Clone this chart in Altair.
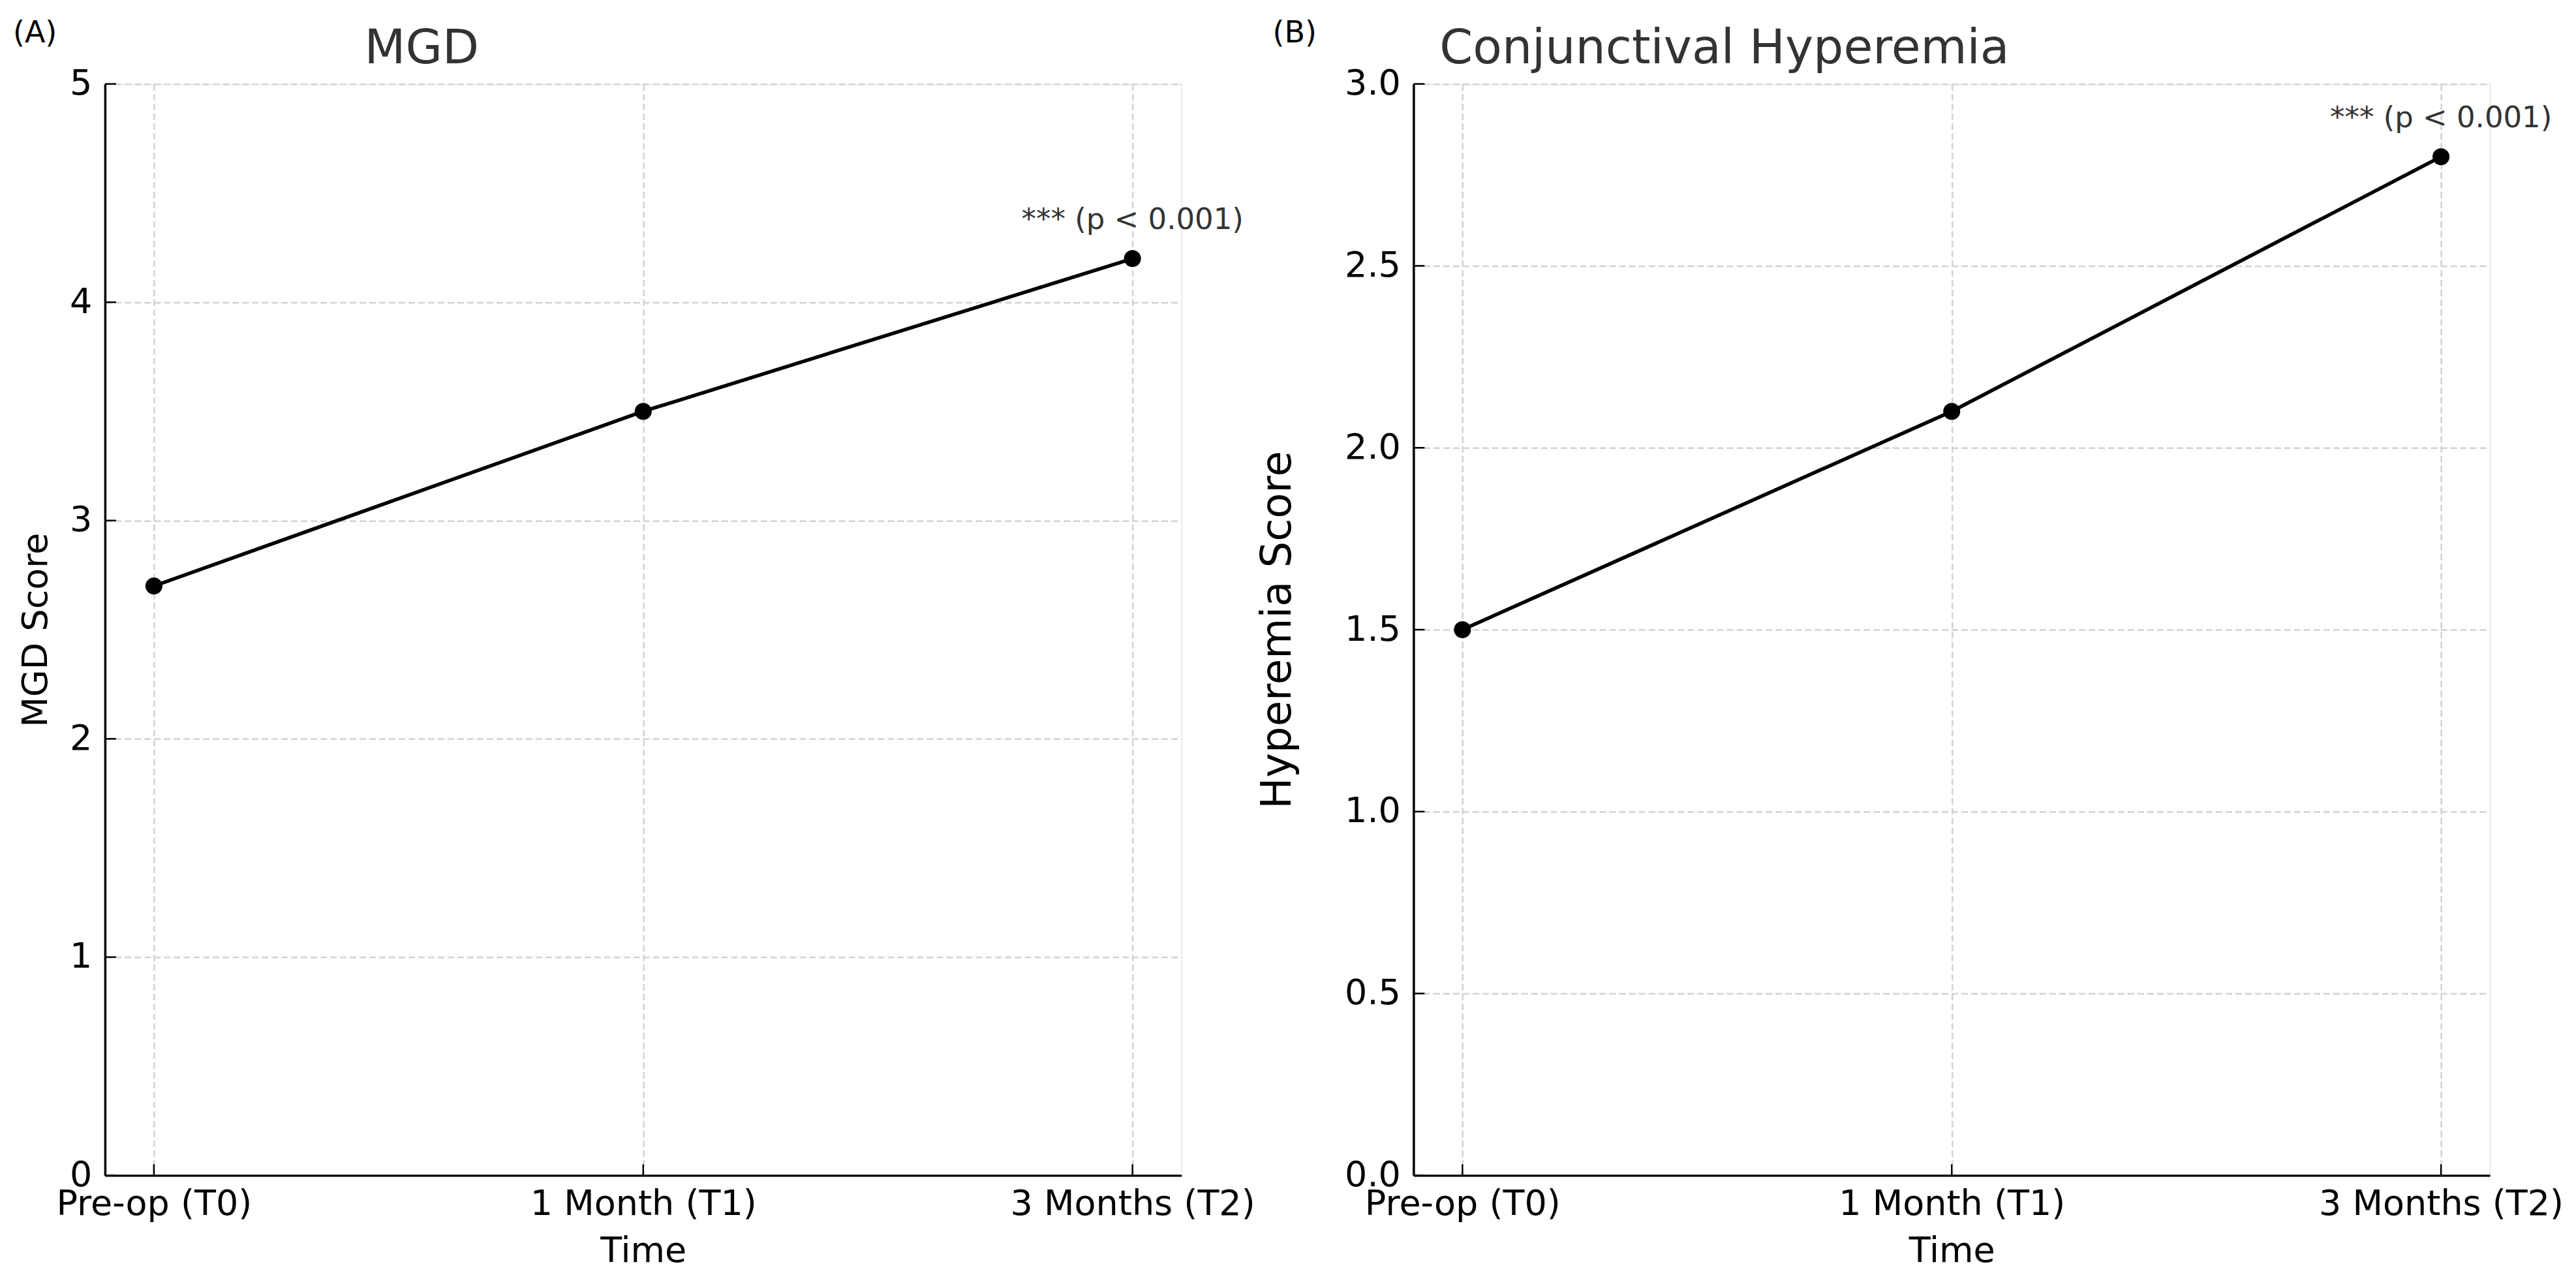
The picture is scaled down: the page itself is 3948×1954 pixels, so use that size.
import altair as alt
import pandas as pd

# ---- data ----
times = ["Pre-op (T0)", "1 Month (T1)", "3 Months (T2)"]
mgd_scores = [2.7, 3.5, 4.2]
hyperemia_scores = [1.5, 2.1, 2.8]
mgd_ticks = [0, 1, 2, 3, 4, 5]
hyperemia_ticks = [0.0, 0.5, 1.0, 1.5, 2.0, 2.5, 3.0]
annotation_text = "*** (p < 0.001)"

FONT = "DejaVu Sans"
W, H = 1651, 1674
TICK_LEN = 17


def panel(values, ticks, ymax, fmt, ytitle, ytitle_size, ytitle_pad,
          title, title_dx, label, label_dx):
    df = pd.DataFrame({"Time": times, "Score": values})
    tick_df = pd.DataFrame({"Score": ticks})
    time_df = pd.DataFrame({"Time": times})
    ann_df = pd.DataFrame({"Time": [times[-1]], "Score": [values[-1]],
                           "label": [annotation_text]})
    lab_df = pd.DataFrame({"label": [label]})

    xscale = alt.Scale(type="point", domain=times, padding=0.1)
    yscale = alt.Scale(domain=[0, ymax], nice=False, zero=True)

    x_axis = alt.Axis(
        title="Time", labelAngle=0, labelFontSize=54, titleFontSize=54,
        labelFont=FONT, titleFont=FONT, labelColor="#000", titleColor="#000",
        titleFontWeight="normal", labelPadding=17, titlePadding=18,
        labelLimit=2000, labelOverlap=False,
        ticks=False, domainColor="#000", domainWidth=3.5,
        grid=True, gridColor="#d2d2d2", gridWidth=2.5, gridDash=[10, 5],
    )
    y_axis = alt.Axis(
        title=ytitle, values=ticks, format=fmt, labelFontSize=54,
        titleFontSize=ytitle_size, labelFont=FONT, titleFont=FONT,
        labelColor="#000", titleColor="#000", titleFontWeight="normal",
        labelPadding=20, titlePadding=ytitle_pad, ticks=False,
        labelLimit=2000, labelOverlap=False,
        domainColor="#000", domainWidth=3.5,
        grid=True, gridColor="#d2d2d2", gridWidth=2.5, gridDash=[10, 5],
    )

    base = alt.Chart(df).encode(
        x=alt.X("Time:N", scale=xscale, axis=x_axis, sort=times),
        y=alt.Y("Score:Q", scale=yscale, axis=y_axis),
    )
    line = base.mark_line(color="black", strokeWidth=5.5)
    pts = base.mark_circle(size=680, color="black", opacity=1)

    ann = alt.Chart(ann_df).mark_text(
        font=FONT, fontSize=45, color="#333333", baseline="alphabetic",
        align="center", dy=-45,
    ).encode(
        x=alt.X("Time:N", scale=xscale, sort=times),
        y=alt.Y("Score:Q", scale=yscale),
        text="label:N",
    )

    yticks = alt.Chart(tick_df).mark_rule(color="black", strokeWidth=2.5).encode(
        y=alt.Y("Score:Q", scale=yscale),
        x=alt.value(0), x2=alt.value(TICK_LEN),
    )
    xticks = alt.Chart(time_df).mark_rule(color="black", strokeWidth=2.5).encode(
        x=alt.X("Time:N", scale=xscale, sort=times),
        y=alt.value(H - TICK_LEN), y2=alt.value(H),
    )

    plabel = alt.Chart(lab_df).mark_text(
        font=FONT, fontSize=46, color="#000", align="left", baseline="top",
    ).encode(x=alt.value(label_dx), y=alt.value(-100), text="label:N")

    return alt.layer(line, pts, ann, yticks, xticks, plabel).properties(
        width=W, height=H,
        title=alt.TitleParams(
            text=title, anchor="start", frame="group", dx=title_dx,
            offset=-142, baseline="alphabetic", fontSize=73, font=FONT,
            fontWeight="normal", color="#333333",
        ),
    )


left = panel(mgd_scores, mgd_ticks, 5, "d", "MGD Score", 54, 24,
             "MGD", 398, "(A)", -141)
right = panel(hyperemia_scores, hyperemia_ticks, 3.0, ".1f", "Hyperemia Score",
              64, 70, "Conjunctival Hyperemia", 40, "(B)", -216)

chart = alt.hconcat(left, right, spacing=356, bounds="flush").properties(
    padding={"left": 11, "top": 18, "right": 10, "bottom": 10},
    background="white",
).configure_view(strokeWidth=0).configure(font=FONT)

chart.save("out.html", embed_options={"renderer": "svg", "actions": False})
